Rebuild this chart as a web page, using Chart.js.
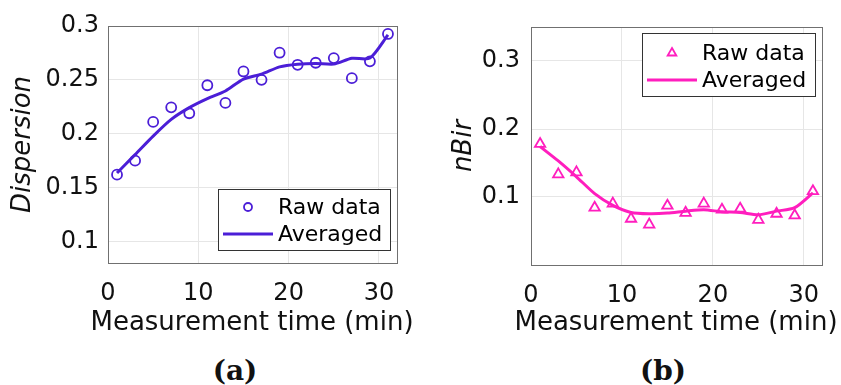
<!DOCTYPE html>
<html lang="en">
<head>
    <meta charset="UTF-8">
    <script src="https://cdn.jsdelivr.net/npm/chart.js@4.4.1/dist/chart.umd.min.js"></script>
    <title>Dispersion and nBir</title>
    <style>
        body { margin: 0; background: #fff; width: 841px; height: 385px; position: relative; overflow: hidden; }
        .panel { position: absolute; top: 0; height: 350px; }
        .tag { position: absolute; top: 355px; width: 100px; text-align: center;
               font: bold 28px "DejaVu Serif", serif; line-height: 32px; color: #111; }
        .xtitle { position: absolute; top: 304px; width: 400px; text-align: center; white-space: nowrap;
                  font: 26px "DejaVu Sans", sans-serif; line-height: 34px; color: #111; }
    </style>
</head>
<body>
    <div class="panel" style="left:0;width:420px"><canvas id="chartA" width="420" height="350"></canvas></div>
    <div class="panel" style="left:420px;width:421px"><canvas id="chartB" width="421" height="350"></canvas></div>
    <div class="xtitle" style="left:52px">Measurement time (min)</div>
    <div class="xtitle" style="left:476px">Measurement time (min)</div>
    <div class="tag" style="left:185px">(a)</div>
    <div class="tag" style="left:613px">(b)</div>

    <script>
    // measurement times (min)
    const minutes = [1, 3, 5, 7, 9, 11, 13, 15, 17, 19, 21, 23, 25, 27, 29, 31];

    // panel (a) - dispersion
    const dispersionRaw = [0.162, 0.175, 0.211, 0.2245, 0.219, 0.245, 0.2286, 0.2578, 0.250, 0.2752,
                           0.264, 0.2659, 0.2702, 0.2516, 0.2672, 0.2926];
    const dispersionAvg = [0.1636, 0.1806, 0.1978, 0.2133, 0.2242, 0.2326, 0.2397, 0.2507, 0.2553, 0.2621,
                           0.2646, 0.2653, 0.2646, 0.2700, 0.2702, 0.2917];

    // panel (b) - nBir
    const nbirRaw = [0.178, 0.1332, 0.1362, 0.0843, 0.0902, 0.068, 0.0595, 0.0872, 0.0768, 0.0902,
                     0.0813, 0.0828, 0.0665, 0.0754, 0.0729, 0.1085];
    const nbirAvg = [0.1742, 0.153, 0.1297, 0.105, 0.0877, 0.0773, 0.0754, 0.0763, 0.0792, 0.0813,
                     0.0783, 0.0773, 0.0739, 0.0792, 0.0843, 0.106];

    // tick labels
    const timeTicks = [0, 10, 20, 30];
    const dispersionTicks = [0.1, 0.15, 0.2, 0.25, 0.3];
    const nbirTicks = [0.1, 0.2, 0.3];

    const purple = '#4b1ed7';
    const pink = '#ff1ebe';
    const FONT = '"DejaVu Sans", sans-serif';

    const pairs = (xs, ys) => xs.map((x, i) => ({ x: x, y: ys[i] }));

    // matlab style frame around the plot area
    const frame = {
        id: 'frame',
        afterDatasetsDraw(chart) {
            const a = chart.chartArea, ctx = chart.ctx;
            ctx.save();
            ctx.strokeStyle = '#707070';
            ctx.lineWidth = 1;
            ctx.strokeRect(Math.round(a.left) + 0.5, Math.round(a.top) + 0.5,
                           Math.round(a.right - a.left), Math.round(a.bottom - a.top));
            ctx.restore();
        }
    };

    // legend box drawn inside the axes
    const boxLegend = {
        id: 'boxLegend',
        afterDraw(chart, args, o) {
            const ctx = chart.ctx, a = chart.chartArea;
            const x = Math.round(a.right - o.right - o.width);
            const y = Math.round(o.top != null ? a.top + o.top : a.bottom - o.bottom - o.height);
            ctx.save();
            ctx.fillStyle = '#fff';
            ctx.fillRect(x, y, o.width, o.height);
            ctx.strokeStyle = '#333';
            ctx.lineWidth = 1;
            ctx.strokeRect(x + 0.5, y + 0.5, o.width, o.height);
            ctx.font = '22px ' + FONT;
            ctx.textBaseline = 'middle';
            ctx.fillStyle = '#000';
            chart.data.datasets.forEach((ds, i) => {
                const cy = y + o.rows[i];
                ctx.strokeStyle = ds.borderColor;
                if (ds.showLine === false) {
                    ctx.lineWidth = 1.8;
                    ctx.beginPath();
                    if (ds.pointStyle === 'triangle') {
                        const r = 5;
                        ctx.moveTo(x + 30, cy - r);
                        ctx.lineTo(x + 30 + r * 0.87, cy + r * 0.5);
                        ctx.lineTo(x + 30 - r * 0.87, cy + r * 0.5);
                        ctx.closePath();
                    } else {
                        ctx.arc(x + 30, cy, 4, 0, Math.PI * 2);
                    }
                    ctx.stroke();
                } else {
                    ctx.lineWidth = 3;
                    ctx.beginPath();
                    ctx.moveTo(x + 5, cy);
                    ctx.lineTo(x + 55, cy);
                    ctx.stroke();
                }
                ctx.fillText(ds.label, x + 60, cy + 1);
            });
            ctx.restore();
        }
    };

    function makeChart(id, cfg) {
        return new Chart(document.getElementById(id), {
            type: 'scatter',
            data: {
                datasets: [{
                    label: 'Raw data',
                    data: pairs(minutes, cfg.raw),
                    showLine: false,
                    pointStyle: cfg.marker,
                    pointRadius: cfg.marker === 'triangle' ? 6 : 5,
                    pointBorderWidth: 1.8,
                    borderColor: cfg.color,
                    backgroundColor: 'rgba(0,0,0,0)'
                }, {
                    label: 'Averaged',
                    data: pairs(minutes, cfg.avg),
                    showLine: true,
                    borderColor: cfg.color,
                    borderWidth: 3,
                    pointRadius: 0,
                    tension: 0.25
                }]
            },
            options: {
                responsive: false,
                devicePixelRatio: 1,
                animation: false,
                layout: { padding: cfg.padding },
                plugins: {
                    legend: { display: false },
                    tooltip: { enabled: false },
                    boxLegend: cfg.legend
                },
                scales: {
                    x: {
                        type: 'linear',
                        min: 0, max: 32,
                        afterBuildTicks: s => { s.ticks = timeTicks.map(v => ({ value: v })); },
                        afterFit: s => { s.height = cfg.xHeight; },
                        grid: { color: '#e6e6e6', drawTicks: false },
                        border: { display: false },
                        ticks: { color: '#111', padding: 16, font: { family: FONT, size: 24 } }
                    },
                    y: {
                        min: cfg.yMin, max: cfg.yMax,
                        afterBuildTicks: s => { s.ticks = cfg.yTicks.map(v => ({ value: v })); },
                        afterFit: s => { s.width = cfg.yWidth; },
                        grid: { color: '#e6e6e6', drawTicks: false },
                        border: { display: false },
                        ticks: {
                            color: '#111', padding: cfg.yTickPad, font: { family: FONT, size: 24 },
                            callback: v => String(+v.toFixed(3))
                        },
                        title: {
                            display: true, text: cfg.yTitle, color: '#111',
                            padding: { top: cfg.yTitlePad, bottom: 0 },
                            font: { family: FONT, size: 26, style: 'italic' }
                        }
                    }
                }
            },
            plugins: [frame, boxLegend]
        });
    }

    makeChart('chartA', {
        raw: dispersionRaw, avg: dispersionAvg, color: purple, marker: 'circle',
        yMin: 0.08, yMax: 0.3, yTicks: dispersionTicks, yTitle: 'Dispersion',
        padding: { left: 0, top: 26, right: 23, bottom: 0 },
        xHeight: 87, yWidth: 108, yTickPad: 9, yTitlePad: 8,
        legend: { width: 172, height: 61, right: 7, bottom: 13, rows: [18, 45] }
    });

    makeChart('chartB', {
        raw: nbirRaw, avg: nbirAvg, color: pink, marker: 'triangle',
        yMin: 0, yMax: 0.35, yTicks: nbirTicks, yTitle: 'nBir',
        padding: { left: 0, top: 27, right: 19, bottom: 0 },
        xHeight: 85, yWidth: 111, yTickPad: 11, yTitlePad: 29,
        legend: { width: 173, height: 63, right: 7, top: 6, rows: [20, 47] }
    });
    </script>
</body>
</html>
